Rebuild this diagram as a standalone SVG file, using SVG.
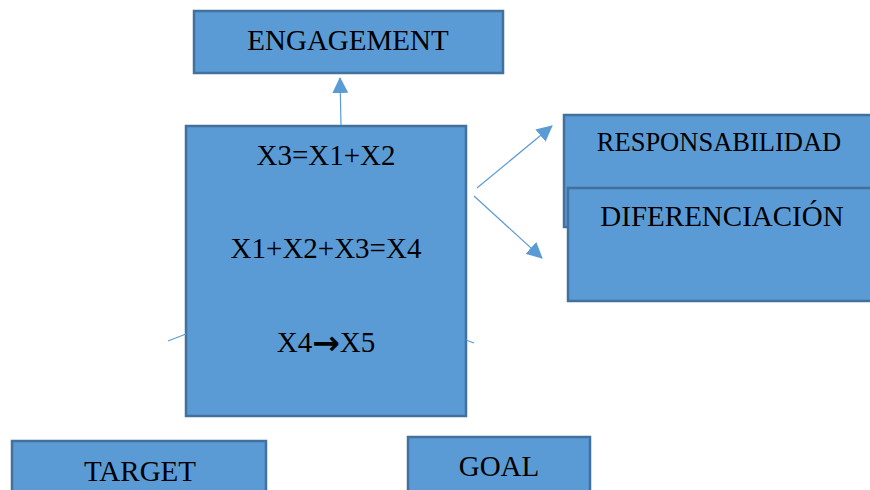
<svg xmlns="http://www.w3.org/2000/svg" width="870" height="490" viewBox="0 0 870 490">
  <style>
    .box { fill: #5B9BD5; stroke: #41719C; stroke-width: 2.5; }
    .lbl { font-family: "Liberation Serif", "Times New Roman", serif; fill: #000; text-anchor: middle; font-size: 29px; }
    .arw { font-family: "DejaVu Sans", sans-serif; font-weight: bold; font-size: 33px; }
    .con { stroke: #5B9BD5; stroke-width: 1.2; fill: none; }
  </style>
  <defs>
    <marker id="tri" markerUnits="userSpaceOnUse" markerWidth="16" markerHeight="16" viewBox="0 0 16 16" refX="15" refY="8" orient="auto">
      <path d="M0,0 L16,8 L0,16 Z" fill="#5B9BD5"/>
    </marker>
  </defs>
  <rect width="870" height="490" fill="#fff"/>

  <g id="engagement">
    <rect class="box" x="194" y="11" width="309" height="62"/>
    <text class="lbl" x="348" y="50">ENGAGEMENT</text>
  </g>

  <g id="responsabilidad">
    <rect class="box" x="564" y="115" width="320" height="112"/>
    <text class="lbl" x="719" y="151" style="font-size:26.5px">RESPONSABILIDAD</text>
  </g>

  <g id="diferenciacion">
    <rect class="box" x="568" y="188" width="316" height="113"/>
    <text class="lbl" x="722" y="226">DIFERENCIACIÓN</text>
  </g>

  <g id="core">
    <rect class="box" x="186" y="126" width="280" height="290"/>
    <text class="lbl" x="326" y="165">X3=X1+X2</text>
    <text class="lbl" x="326" y="258">X1+X2+X3=X4</text>
    <text class="lbl" x="326" y="352">X4<tspan class="arw" dy="2">→</tspan><tspan dy="-2">X5</tspan></text>
  </g>

  <g id="target">
    <rect class="box" x="12" y="441" width="254" height="60"/>
    <text class="lbl" x="140" y="481">TARGET</text>
  </g>

  <g id="goal">
    <rect class="box" x="408" y="437" width="182" height="60"/>
    <text class="lbl" x="499" y="476">GOAL</text>
  </g>

  <g id="connectors">
    <line class="con" x1="341" y1="125" x2="340" y2="78" marker-end="url(#tri)"/>
    <line class="con" x1="477" y1="188" x2="552" y2="126" marker-end="url(#tri)"/>
    <line class="con" x1="474" y1="196" x2="542" y2="258" marker-end="url(#tri)"/>
    <line class="con" x1="168" y1="341" x2="186" y2="334"/>
    <line class="con" x1="466" y1="340" x2="474" y2="343"/>
  </g>
</svg>
